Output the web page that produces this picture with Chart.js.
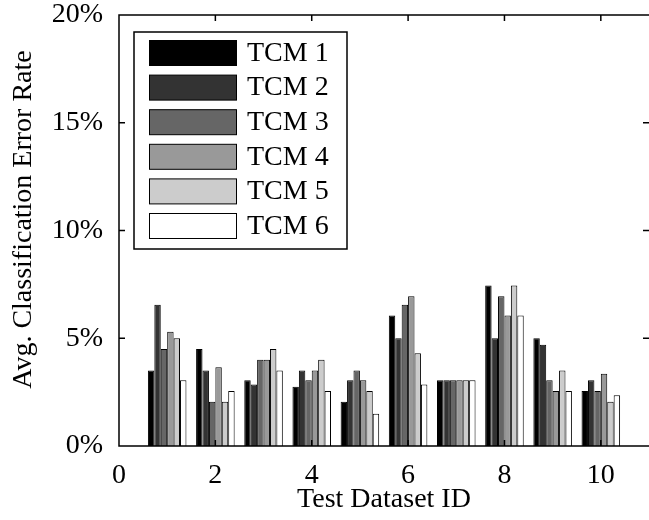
<!DOCTYPE html>
<html lang="en">
<head>
  <meta charset="UTF-8" />
  <title>Avg. Classification Error Rate</title>
  <script src="https://cdn.jsdelivr.net/npm/chart.js"></script>
  <style>
    html, body {
      margin: 0;
      padding: 0;
      background: #fff;
      overflow: hidden;
    }
  </style>
</head>
<body>
  <canvas id="chart" width="649" height="520"></canvas>

  <script>
    // test dataset ids (x) and average error rate in % per model
    const datasetIds = [1, 2, 3, 4, 5, 6, 7, 8, 9, 10];
    const seriesNames = ['TCM 1', 'TCM 2', 'TCM 3', 'TCM 4', 'TCM 5', 'TCM 6'];
    const seriesColors = ['#000000', '#333333', '#666666', '#999999', '#cccccc', '#ffffff'];

    const tcm1 = [3.5, 4.5, 3.05, 2.75, 2.05, 6.05, 3.05, 7.45, 5.0, 2.55];
    const tcm2 = [6.55, 3.5, 2.85, 3.5, 3.05, 5.0, 3.05, 5.0, 4.7, 3.05];
    const tcm3 = [4.5, 2.05, 4.0, 3.05, 3.5, 6.55, 3.05, 6.95, 3.05, 2.55];
    const tcm4 = [5.3, 3.65, 4.0, 3.5, 3.05, 6.95, 3.05, 6.05, 2.55, 3.35];
    const tcm5 = [5.0, 2.05, 4.5, 4.0, 2.55, 4.3, 3.05, 7.45, 3.5, 2.05];
    const tcm6 = [3.05, 2.55, 3.5, 2.55, 1.5, 2.85, 3.05, 6.05, 2.55, 2.35];

    const xTicks = [0, 2, 4, 6, 8, 10];
    const yTicks = [0, 5, 10, 15, 20];

    const FONT = { family: "'Liberation Serif', 'Times New Roman', serif", size: 28 };
    const FONT_CSS = FONT.size + 'px ' + FONT.family;
    const allSeries = [tcm1, tcm2, tcm3, tcm4, tcm5, tcm6];

    const datasets = allSeries.map((vals, i) => ({
      label: seriesNames[i],
      data: datasetIds.map((id, j) => ({ x: id, y: vals[j] })),
      backgroundColor: seriesColors[i],
      borderColor: '#000',
      borderWidth: 1,
      categoryPercentage: 0.8,
      barPercentage: 1.0
    }));

    // matlab style box: frame, inward ticks on all sides, y title, legend inside
    const matlabBox = {
      id: 'matlabBox',
      afterDatasetsDraw(chart) {
        const { ctx, chartArea: a, scales: { x, y } } = chart;
        const len = 6;
        ctx.save();
        ctx.strokeStyle = '#000';
        ctx.lineWidth = 1.5;
        // right edge of the box is cut off by the picture, so no line there
        ctx.beginPath();
        ctx.moveTo(a.right, a.top); ctx.lineTo(a.left, a.top);
        ctx.lineTo(a.left, a.bottom); ctx.lineTo(a.right, a.bottom);
        xTicks.forEach(v => {
          const px = x.getPixelForValue(v);
          ctx.moveTo(px, a.bottom); ctx.lineTo(px, a.bottom - len);
          ctx.moveTo(px, a.top); ctx.lineTo(px, a.top + len);
        });
        yTicks.forEach(v => {
          const py = y.getPixelForValue(v);
          ctx.moveTo(a.left, py); ctx.lineTo(a.left + len, py);
          ctx.moveTo(a.right, py); ctx.lineTo(a.right - len, py);
        });
        ctx.stroke();

        // y title sits a bit above the middle of the axis in the original
        ctx.translate(24, (a.top + a.bottom) / 2 - 11);
        ctx.rotate(-Math.PI / 2);
        ctx.font = FONT_CSS;
        ctx.fillStyle = '#000';
        ctx.textAlign = 'center';
        ctx.textBaseline = 'middle';
        ctx.fillText('Avg. Classification Error Rate', 0, 0);
        ctx.restore();
      },
      afterDraw(chart) {
        const { ctx, chartArea: a } = chart;
        const bx = a.left + 15, by = a.top + 17, bw = 213, bh = 217;
        const pitch = 34.6;
        ctx.save();
        ctx.fillStyle = '#fff';
        ctx.fillRect(bx, by, bw, bh);
        ctx.strokeStyle = '#000';
        ctx.lineWidth = 1.5;
        ctx.strokeRect(bx, by, bw, bh);
        ctx.font = FONT_CSS;
        ctx.textBaseline = 'middle';
        chart.data.datasets.forEach((ds, i) => {
          const sy = by + 8.5 + i * pitch;
          ctx.fillStyle = ds.backgroundColor;
          ctx.fillRect(bx + 15.5, sy, 87, 25);
          ctx.lineWidth = 1;
          ctx.strokeRect(bx + 15.5, sy, 87, 25);
          ctx.fillStyle = '#000';
          ctx.fillText(ds.label, bx + 113, sy + 13);
        });
        ctx.restore();
      }
    };

    new Chart(document.getElementById('chart').getContext('2d'), {
      type: 'bar',
      data: { datasets },
      options: {
        responsive: false,
        animation: false,
        layout: { padding: { top: 15, right: 0, left: 0, bottom: 0 } },
        plugins: {
          legend: { display: false },
          tooltip: { enabled: false }
        },
        scales: {
          x: {
            type: 'linear',
            min: 0,
            max: 11,
            offset: false,
            grid: { display: false, drawTicks: false },
            border: { display: false },
            afterBuildTicks: s => { s.ticks = xTicks.map(v => ({ value: v })); },
            afterFit: s => { s.height = 74; s.paddingLeft = 0; s.paddingRight = 0; },
            ticks: { color: '#000', font: FONT, padding: 13, maxRotation: 0 },
            title: {
              display: true,
              text: 'Test Dataset ID',
              color: '#000',
              font: FONT,
              padding: { top: 0, bottom: 4 }
            }
          },
          y: {
            min: 0,
            max: 20,
            grid: { display: false, drawTicks: false },
            border: { display: false },
            afterBuildTicks: s => { s.ticks = yTicks.map(v => ({ value: v })); },
            afterFit: s => { s.width = 119; s.paddingTop = 0; s.paddingBottom = 0; },
            ticks: { color: '#000', font: FONT, padding: 16, callback: v => v + '%' }
          }
        }
      },
      plugins: [matlabBox]
    });
  </script>
</body>
</html>
